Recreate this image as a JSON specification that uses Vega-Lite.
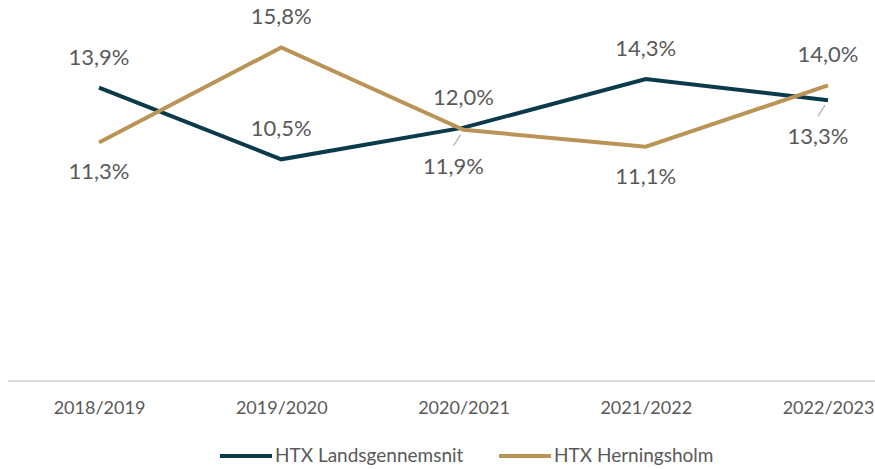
{
  "$schema": "https://vega.github.io/schema/vega-lite/v6.json",
  "autosize": "none",
  "width": 867,
  "height": 380,
  "padding": {"left": 8, "top": 1, "right": 0, "bottom": 88},
  "background": "white",
  "config": {"view": {"stroke": null}, "font": "Lato"},
  "data": {"values": [
    {"aar": "2018/2019", "serie": "HTX Landsgennemsnit", "v": 13.9},
    {"aar": "2019/2020", "serie": "HTX Landsgennemsnit", "v": 10.5},
    {"aar": "2020/2021", "serie": "HTX Landsgennemsnit", "v": 12.0},
    {"aar": "2021/2022", "serie": "HTX Landsgennemsnit", "v": 14.3},
    {"aar": "2022/2023", "serie": "HTX Landsgennemsnit", "v": 13.3},
    {"aar": "2018/2019", "serie": "HTX Herningsholm", "v": 11.3},
    {"aar": "2019/2020", "serie": "HTX Herningsholm", "v": 15.8},
    {"aar": "2020/2021", "serie": "HTX Herningsholm", "v": 11.9},
    {"aar": "2021/2022", "serie": "HTX Herningsholm", "v": 11.1},
    {"aar": "2022/2023", "serie": "HTX Herningsholm", "v": 14.0}
  ]},
  "transform": [
    {"calculate": "replace(format(datum.v, '.1f'), '.', ',') + '%'", "as": "label"}
  ],
  "encoding": {
    "x": {"field": "aar", "type": "ordinal",
      "scale": {"type": "point", "range": [91, 820], "padding": 0},
      "axis": {"title": null, "domain": false, "ticks": false, "labelAngle": 0,
        "labelFontSize": 18, "labelColor": "#595959", "labelPadding": 18}},
    "y": {"field": "v", "type": "quantitative",
      "scale": {"domain": [0, 18], "nice": false, "zero": true}, "axis": null}
  },
  "layer": [
    {"mark": {"type": "rule", "color": "#D9D9D9", "strokeWidth": 1.5},
     "encoding": {"x": null, "y": {"datum": 0}}},
    {"transform": [{"filter": "(datum.serie == 'HTX Herningsholm' && datum.aar == '2020/2021') || (datum.serie == 'HTX Landsgennemsnit' && datum.aar == '2022/2023')"}],
     "mark": {"type": "rule", "color": "#A6A6A6", "strokeWidth": 1.2, "xOffset": -3, "yOffset": 5, "x2Offset": -10, "y2Offset": 16},
     "encoding": {"x2": {"field": "aar"}, "y2": {"field": "v"}}},
    {"mark": {"type": "line", "strokeWidth": 4},
     "encoding": {
       "color": {"field": "serie", "type": "nominal",
         "scale": {"domain": ["HTX Landsgennemsnit", "HTX Herningsholm"], "range": ["#0B3A4A", "#BA9456"]},
         "legend": {"title": null, "orient": "none", "direction": "horizontal",
           "legendX": 210, "legendY": 427, "symbolType": "stroke", "symbolSize": 2704,
           "symbolStrokeWidth": 4, "labelFontSize": 19, "labelColor": "#595959",
           "labelOffset": 1, "columnPadding": 27, "labelLimit": 0}}
     }},
    {"transform": [{"filter": "(datum.serie == 'HTX Landsgennemsnit' && datum.aar != '2022/2023') || (datum.serie == 'HTX Herningsholm' && (datum.aar == '2019/2020' || datum.aar == '2022/2023'))"}],
     "mark": {"type": "text", "fontSize": 22, "color": "#595959", "dy": -30, "baseline": "middle"},
     "encoding": {"text": {"field": "label"}}},
    {"transform": [{"filter": "datum.serie == 'HTX Herningsholm' && (datum.aar == '2018/2019' || datum.aar == '2021/2022')"}],
     "mark": {"type": "text", "fontSize": 22, "color": "#595959", "dy": 30, "baseline": "middle"},
     "encoding": {"text": {"field": "label"}}},
    {"transform": [{"filter": "(datum.serie == 'HTX Herningsholm' && datum.aar == '2020/2021') || (datum.serie == 'HTX Landsgennemsnit' && datum.aar == '2022/2023')"}],
     "mark": {"type": "text", "fontSize": 22, "color": "#595959", "dy": 37, "dx": -10, "baseline": "middle"},
     "encoding": {"text": {"field": "label"}}}
  ]
}
